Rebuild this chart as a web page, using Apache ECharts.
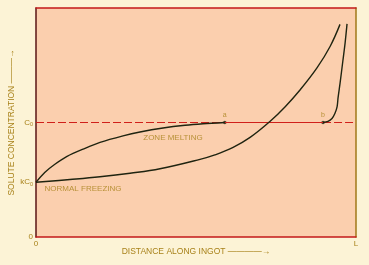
<!DOCTYPE html>
<html><head><meta charset="utf-8">
<script src="https://cdn.jsdelivr.net/npm/echarts@6/dist/echarts.min.js"></script>
<style>html,body{margin:0;padding:0;background:#fcf3d6;}#c{width:369px;height:265px;}</style>
</head><body><div id="c"></div>
<script>
// x: fraction of ingot length (0..L=1); y: concentration in units of C0
const C0 = 1.0;
const kC0 = 0.478;
const normalFreezingX = [0, 0.106, 0.2, 0.294, 0.3875, 0.5125, 0.559, 0.616, 0.669, 0.731, 0.778, 0.825, 0.878, 0.919, 0.95];
const normalFreezingY = [0.478, 0.502, 0.526, 0.557, 0.596, 0.678, 0.717, 0.783, 0.870, 1.009, 1.136, 1.284, 1.477, 1.664, 1.857];
const zoneMeltingX = [0, 0.028, 0.059, 0.097, 0.153, 0.2, 0.272, 0.325, 0.397, 0.466, 0.522, 0.59];
const zoneMeltingY = [0.478, 0.565, 0.635, 0.704, 0.774, 0.826, 0.883, 0.917, 0.952, 0.976, 0.989, 1.0];
const zoneEndX = [0.897, 0.9125, 0.925, 0.934, 0.941, 0.944, 0.95, 0.959, 0.966, 0.972];
const zoneEndY = [1.0, 1.009, 1.035, 1.078, 1.139, 1.217, 1.339, 1.539, 1.696, 1.861];
const pointA = 0.59, pointB = 0.897;
const xTickLabels = {0: '0', 1: 'L'};
const yTickValues = [0, kC0, C0];

const txt = '#a8821a';
const zip = (xs, ys) => xs.map((x, i) => [x, ys[i]]);
const curve = '#1f2410';
const chart = echarts.init(document.getElementById('c'));
chart.setOption({
  backgroundColor: '#fcf3d6',
  animation: false,
  grid: {left: 36, right: 13, top: 8, bottom: 28, show: true, backgroundColor: '#fbcfae', borderWidth: 0, outerBoundsMode: 'none', containLabel: false},
  xAxis: [{
    type: 'value', min: 0, max: 1, interval: 1,
    name: 'DISTANCE ALONG INGOT ————→', nameLocation: 'middle', nameGap: 10, nameMoveOverlap: false,
    nameTextStyle: {color: txt, fontSize: 8.5, fontFamily: 'Liberation Sans'},
    axisLine: {show: true, lineStyle: {color: '#c41a1a', width: 1.5}},
    axisTick: {show: false}, splitLine: {show: false},
    axisLabel: {color: txt, fontSize: 8, margin: 3, fontFamily: 'Liberation Sans', formatter: v => xTickLabels[v] ?? ''}
  }, {
    type: 'value', min: 0, max: 1, position: 'top',
    axisLine: {show: true, onZero: false, lineStyle: {color: '#c41a1a', width: 1.5}},
    axisTick: {show: false}, axisLabel: {show: false}, splitLine: {show: false}
  }],
  yAxis: [{
    type: 'value', min: 0, max: 2,
    name: 'SOLUTE CONCENTRATION ———→', nameLocation: 'middle', nameGap: 20, nameRotate: 90, nameMoveOverlap: false,
    nameTextStyle: {color: txt, fontSize: 8.5, fontFamily: 'Liberation Sans'},
    axisLine: {show: true, lineStyle: {color: '#5a1414', width: 1.5}},
    axisTick: {show: false}, splitLine: {show: false},
    axisLabel: {
      customValues: yTickValues, color: txt, fontSize: 8, margin: 3, fontFamily: 'Liberation Sans',
      formatter: v => v === 0 ? '0' : (Math.abs(v - kC0) < 1e-6 ? 'kC{s|0}' : 'C{s|0}'),
      rich: {s: {fontSize: 5.5, color: txt, verticalAlign: 'bottom', padding: [4, 0, 0, 0]}}
    }
  }, {
    type: 'value', min: 0, max: 2, position: 'right',
    axisLine: {show: true, onZero: false, lineStyle: {color: '#a07818', width: 1.5}},
    axisTick: {show: false}, axisLabel: {show: false}, splitLine: {show: false}
  }],
  series: [
    {type: 'line', data: [[0, C0], [pointA, C0]], symbol: 'none', lineStyle: {color: '#d0201a', width: 1.2, type: [8, 3]}},
    {type: 'line', data: [[pointA, C0], [pointB, C0]], symbol: 'none', lineStyle: {color: '#d0201a', width: 1.2}},
    {type: 'line', data: [[pointB, C0], [1, C0]], symbol: 'none', lineStyle: {color: '#d0201a', width: 1.2, type: [8, 3]}},
    {type: 'line', data: zip(normalFreezingX, normalFreezingY), smooth: 0.4, symbol: 'none', lineStyle: {color: curve, width: 1.4}},
    {type: 'line', data: zip(zoneMeltingX, zoneMeltingY), smooth: 0.3, symbol: 'none', lineStyle: {color: curve, width: 1.4}},
    {type: 'line', data: zip(zoneEndX, zoneEndY), smooth: 0.3, symbol: 'none', lineStyle: {color: curve, width: 1.4}},
    {type: 'scatter', data: [[pointA, C0, 'a'], [pointB, C0, 'b']], symbolSize: 3.5, itemStyle: {color: curve},
      label: {show: true, position: 'top', distance: 2, color: txt, fontSize: 7, fontFamily: 'Liberation Sans', formatter: p => p.data[2]}},
    {type: 'scatter', data: [[0.428, 0.87, 'ZONE MELTING'], [0.147, 0.417, 'NORMAL FREEZING']], symbolSize: 0,
      label: {show: true, position: 'inside', color: txt, fontSize: 8, fontFamily: 'Liberation Sans', formatter: p => p.data[2]}}
  ]
});
</script></body></html>
